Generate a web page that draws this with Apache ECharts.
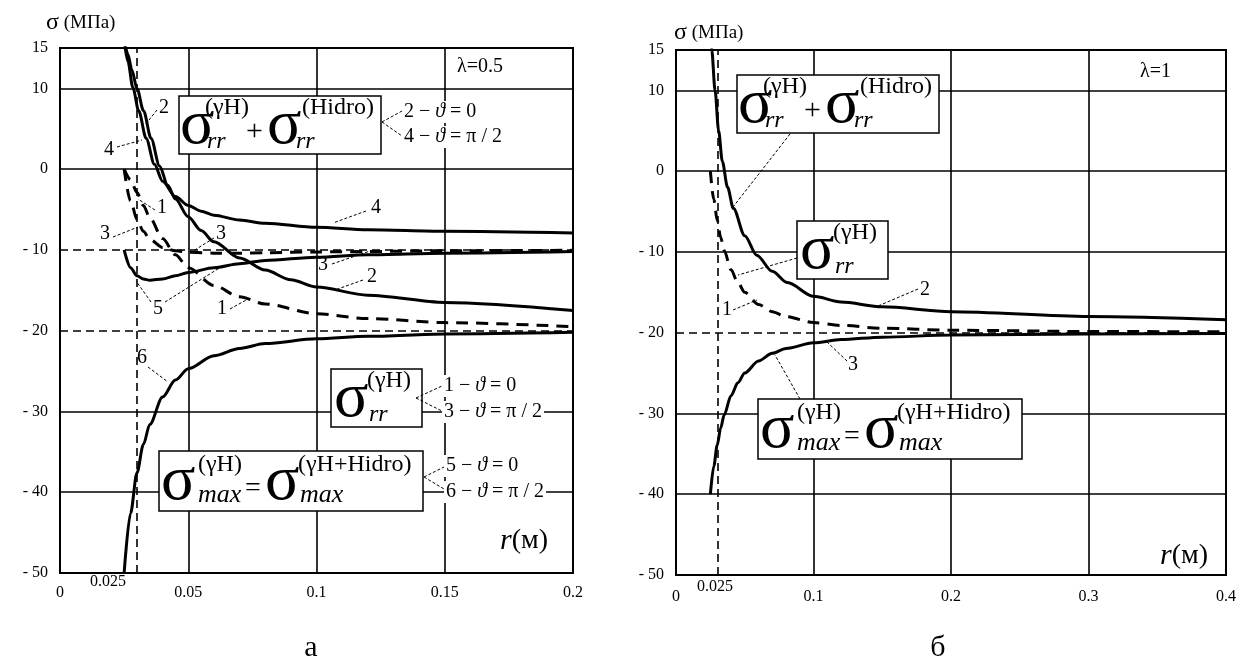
<!DOCTYPE html>
<html>
<head>
<meta charset="utf-8">
<script src="https://cdn.jsdelivr.net/npm/echarts@6/dist/echarts.min.js"></script>
<style>
html, body { margin: 0; background: #fff; }
#chart { width: 1247px; height: 668px; }
</style>
</head>
<body>
<div id="chart"></div>
<script>
// λ = 0.5 (left panel), r in metres, sigma in MPa
const rL = [0.025, 0.0275, 0.03, 0.0325, 0.035, 0.04, 0.045, 0.05, 0.06, 0.07, 0.08, 0.1, 0.12, 0.15, 0.2];
const c1L = [0, -1.3, -2.9, -4.5, -6.0, -8.6, -10.6, -12.2, -14.4, -15.8, -16.7, -17.9, -18.5, -19.0, -19.5];
const c3L = [0, -3.9, -6.2, -7.7, -8.7, -9.7, -10.1, -10.3, -10.4, -10.4, -10.35, -10.25, -10.2, -10.1, -10.05];
const c5L = [-10, -12.2, -13.2, -13.6, -13.75, -13.6, -13.2, -12.8, -12.2, -11.7, -11.3, -10.9, -10.6, -10.4, -10.2];
const c6L = [-50, -42.6, -37.6, -34.1, -31.6, -28.2, -26.1, -24.7, -23.1, -22.2, -21.6, -21.0, -20.7, -20.4, -20.2];
const r2L = [0.025, 0.0265, 0.028, 0.03, 0.0326, 0.0355, 0.0388, 0.042, 0.045, 0.05, 0.055, 0.06, 0.07, 0.08, 0.09, 0.1, 0.12, 0.15, 0.2];
const c2L = [16, 14.2, 12.3, 10, 7.2, 3.8, 0.4, -2.0, -3.7, -5.9, -7.6, -9.0, -11.0, -12.5, -13.7, -14.6, -15.6, -16.5, -17.5];
const r4L = [0.025, 0.0265, 0.0284, 0.0307, 0.0336, 0.0368, 0.04, 0.045, 0.05, 0.055, 0.06, 0.07, 0.08, 0.1, 0.12, 0.15, 0.2];
const c4L = [16, 13.3, 10.1, 7.2, 3.8, 0.6, -1.5, -3.4, -4.5, -5.2, -5.7, -6.3, -6.7, -7.2, -7.5, -7.7, -7.9];

// λ = 1 (right panel)
const rR = [0.025, 0.0275, 0.03, 0.0325, 0.035, 0.04, 0.045, 0.05, 0.06, 0.07, 0.08, 0.1, 0.12, 0.15, 0.2, 0.3, 0.4];
const c1R = [0, -3.5, -6.1, -8.2, -9.8, -12.2, -13.8, -15.0, -16.5, -17.4, -18.0, -18.75, -19.1, -19.45, -19.7, -19.85, -19.9];
const c3R = [-40, -36.5, -33.9, -31.8, -30.2, -27.8, -26.2, -25.0, -23.5, -22.55, -21.95, -21.25, -20.85, -20.55, -20.3, -20.15, -20.1];
const r2R = [0.025, 0.026, 0.0284, 0.031, 0.0337, 0.0375, 0.0417, 0.05, 0.0587, 0.07, 0.081, 0.1, 0.12, 0.15, 0.2, 0.3, 0.4];
const c2R = [17.5, 15, 10, 5.0, 1.2, -2.0, -4.6, -8.0, -10.4, -12.4, -13.8, -15.5, -16.2, -16.8, -17.4, -18.0, -18.4];

// grid lines (solid) and dashed guide lines
const gridXL = [0.05, 0.1, 0.15];
const gridYL = [10, 0, -30, -40];
const dashXL = [0.025];
const dashYL = [-10, -20];
const gridXR = [0.1, 0.2, 0.3];
const gridYR = [10, 0, -10, -30, -40];
const dashXR = [0.025];
const dashYR = [-20];

const FONT = '"Liberation Serif", "Times New Roman", serif';

function curve(xs, ys, idx, dashed) {
    return {
        type: 'line', xAxisIndex: idx, yAxisIndex: idx,
        data: xs.map((x, i) => [x, ys[i]]),
        showSymbol: false, symbol: 'none',
        smooth: 0.3, smoothMonotone: 'x', clip: true,
        z: 3, silent: true, animation: false,
        lineStyle: { color: '#000', width: 3, type: dashed ? [12, 8] : 'solid' }
    };
}

function gridLines(idx, xs, ys, dxs, dys) {
    const solid = { color: '#000', width: 1.6, type: 'solid' };
    const dash = { color: '#000', width: 1.6, type: [8, 5] };
    return {
        type: 'line', xAxisIndex: idx, yAxisIndex: idx, data: [], z: 1, silent: true,
        markLine: {
            silent: true, symbol: ['none', 'none'], label: { show: false }, animation: false,
            emphasis: { disabled: true },
            data: [].concat(
                xs.map(v => ({ xAxis: v, lineStyle: solid })),
                ys.map(v => ({ yAxis: v, lineStyle: solid })),
                dxs.map(v => ({ xAxis: v, lineStyle: dash })),
                dys.map(v => ({ yAxis: v, lineStyle: dash }))
            )
        }
    };
}

function txt(x, y, s, size, extra) {
    return {
        type: 'text', x: x, y: y, z: 100, silent: true,
        style: Object.assign({
            text: s, fontSize: size, fontFamily: FONT, fill: '#000',
            textAlign: 'left', textVerticalAlign: 'middle'
        }, extra || {})
    };
}

function box(x, y, w, h) {
    return { type: 'rect', z: 90, silent: true, shape: { x: x, y: y, width: w, height: h },
        style: { fill: '#fff', stroke: '#000', lineWidth: 1.5 } };
}

function lead(x1, y1, x2, y2) {
    return { type: 'line', z: 95, silent: true, shape: { x1: x1, y1: y1, x2: x2, y2: y2 },
        style: { stroke: '#000', lineWidth: 1, lineDash: [3, 2] } };
}

function theta(x, y, num, val) {
    return {
        type: 'text', x: x, y: y, z: 100, silent: true,
        style: {
            text: '{a|' + num + ' − }{b|ϑ}{a| = ' + val + '}',
            fill: '#000', textAlign: 'left', textVerticalAlign: 'middle',
            backgroundColor: '#fff', padding: [1, 2],
            rich: {
                a: { fontSize: 20, fontFamily: FONT, fill: '#000' },
                b: { fontSize: 20, fontFamily: FONT, fontStyle: 'italic', fill: '#000' }
            }
        }
    };
}

function numLabel(x, y, s) {
    return txt(x, y, s, 20, { textAlign: 'center' });
}

// σrr(γH) + σrr(Hidro)
function boxSum(x0, y0) {
    return [
        box(x0, y0, 202, 58),
        txt(x0 + 1, y0 + 30, 'σ', 64),
        txt(x0 + 26, y0 + 12, '(γH)', 24),
        txt(x0 + 28, y0 + 46, 'rr', 24, { fontStyle: 'italic' }),
        txt(x0 + 67, y0 + 36, '+', 30),
        txt(x0 + 88, y0 + 30, 'σ', 64),
        txt(x0 + 123, y0 + 12, '(Hidro)', 24),
        txt(x0 + 117, y0 + 46, 'rr', 24, { fontStyle: 'italic' })
    ];
}

// σrr(γH)
function boxRR(x0, y0) {
    return [
        box(x0, y0, 91, 58),
        txt(x0 + 3, y0 + 30, 'σ', 64),
        txt(x0 + 36, y0 + 12, '(γH)', 24),
        txt(x0 + 38, y0 + 46, 'rr', 24, { fontStyle: 'italic' })
    ];
}

// σmax(γH) = σmax(γH+Hidro)
function boxMax(x0, y0) {
    return [
        box(x0, y0, 264, 60),
        txt(x0 + 2, y0 + 31, 'σ', 64),
        txt(x0 + 39, y0 + 14, '(γH)', 24),
        txt(x0 + 39, y0 + 44, 'max', 26, { fontStyle: 'italic' }),
        txt(x0 + 86, y0 + 38, '=', 28),
        txt(x0 + 106, y0 + 31, 'σ', 64),
        txt(x0 + 139, y0 + 14, '(γH+Hidro)', 24),
        txt(x0 + 141, y0 + 44, 'max', 26, { fontStyle: 'italic' })
    ];
}

function yTitle(x, y) {
    return {
        type: 'text', x: x, y: y, z: 100, silent: true,
        style: {
            text: '{s|σ}{u| (МПа)}', fill: '#000', textVerticalAlign: 'middle',
            rich: { s: { fontSize: 24, fontFamily: FONT }, u: { fontSize: 19, fontFamily: FONT } }
        }
    };
}

function rTitle(x, y) {
    return {
        type: 'text', x: x, y: y, z: 100, silent: true,
        style: {
            text: '{r|r}{m|(м)}', fill: '#000', textVerticalAlign: 'middle',
            rich: { r: { fontSize: 30, fontFamily: FONT, fontStyle: 'italic' }, m: { fontSize: 28, fontFamily: FONT } }
        }
    };
}

const fmtX = v => String(Math.round(v * 1000) / 1000);
const fmtY = v => (v === 15 || v % 10 === 0) ? (v < 0 ? '- ' + (-v) : String(v)) : '';

function xAx(idx, max, step, margin) {
    return {
        gridIndex: idx, type: 'value', min: 0, max: max, interval: step,
        axisLine: { show: false }, axisTick: { show: false }, splitLine: { show: false },
        axisLabel: { formatter: fmtX, fontSize: 16, fontFamily: FONT, color: '#000', margin: margin,
            showMinLabel: true, showMaxLabel: true }
    };
}

function yAx(idx) {
    return {
        gridIndex: idx, type: 'value', min: -50, max: 15, interval: 5,
        axisLine: { show: false }, axisTick: { show: false }, splitLine: { show: false },
        axisLabel: { formatter: fmtY, fontSize: 16, fontFamily: FONT, color: '#000', margin: 12,
            padding: [5, 0, 0, 0] }
    };
}

const graphics = [].concat(
    // left panel
    yTitle(46, 23),
    txt(457, 67, 'λ=0.5', 20),
    rTitle(500, 541),
    txt(108, 582, '0.025', 16, { textAlign: 'center' }),
    boxSum(179, 96),
    lead(382, 122, 402, 111), lead(382, 122, 402, 136),
    theta(402, 112, '2', '0'), theta(402, 137, '4', 'π / 2'),
    boxRR(331, 369),
    lead(416, 398, 442, 386), lead(416, 398, 442, 411),
    theta(442, 386, '1', '0'), theta(442, 412, '3', 'π / 2'),
    boxMax(159, 451),
    lead(424, 477, 444, 467), lead(424, 477, 444, 489),
    theta(444, 466, '5', '0'), theta(444, 492, '6', 'π / 2'),
    numLabel(164, 108, '2'), lead(157, 110, 145, 125),
    numLabel(109, 150, '4'), lead(117, 147, 142, 140),
    numLabel(162, 208, '1'), lead(155, 210, 138, 199),
    numLabel(105, 234, '3'), lead(113, 237, 138, 227),
    numLabel(221, 234, '3'), lead(214, 238, 190, 253),
    numLabel(323, 265, '3'), lead(332, 264, 370, 251),
    numLabel(372, 277, '2'), lead(363, 280, 335, 290),
    numLabel(376, 208, '4'), lead(366, 211, 333, 223),
    numLabel(158, 309, '5'), lead(151, 302, 136, 281), lead(165, 302, 221, 267),
    numLabel(222, 309, '1'), lead(230, 309, 248, 299),
    numLabel(142, 358, '6'), lead(148, 367, 168, 382),
    txt(311, 648, 'а', 30, { textAlign: 'center' }),
    // right panel
    yTitle(674, 33),
    txt(1140, 72, 'λ=1', 20),
    rTitle(1160, 556),
    txt(715, 587, '0.025', 16, { textAlign: 'center' }),
    boxSum(737, 75),
    lead(790, 134, 733, 207),
    boxRR(797, 221),
    lead(797, 258, 738, 275),
    boxMax(758, 399),
    lead(800, 399, 775, 355),
    numLabel(727, 310, '1'), lead(733, 310, 757, 300),
    numLabel(925, 290, '2'), lead(918, 289, 878, 306),
    numLabel(853, 365, '3'), lead(847, 361, 827, 342),
    txt(938, 648, 'б', 30, { textAlign: 'center' })
);

const chart = echarts.init(document.getElementById('chart'), null, { renderer: 'canvas' });
chart.setOption({
    animation: false,
    backgroundColor: '#fff',
    grid: [
        { left: 60, top: 48, width: 513, height: 525, show: true, borderColor: '#000', borderWidth: 2, backgroundColor: 'transparent' },
        { left: 676, top: 50, width: 550, height: 525, show: true, borderColor: '#000', borderWidth: 2, backgroundColor: 'transparent' }
    ],
    xAxis: [xAx(0, 0.2, 0.05, 12), xAx(1, 0.4, 0.1, 14)],
    yAxis: [yAx(0), yAx(1)],
    series: [
        gridLines(0, gridXL, gridYL, dashXL, dashYL),
        gridLines(1, gridXR, gridYR, dashXR, dashYR),
        curve(rL, c1L, 0, true),
        curve(rL, c3L, 0, true),
        curve(r2L, c2L, 0, false),
        curve(r4L, c4L, 0, false),
        curve(rL, c5L, 0, false),
        curve(rL, c6L, 0, false),
        curve(rR, c1R, 1, true),
        curve(r2R, c2R, 1, false),
        curve(rR, c3R, 1, false)
    ],
    graphic: { elements: graphics }
});
</script>
</body>
</html>
